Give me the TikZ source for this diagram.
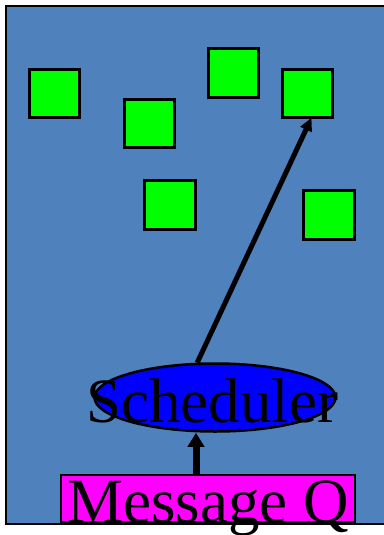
\documentclass[tikz,border=0pt]{standalone}
\usepackage{fontspec}
\setmainfont{Liberation Serif}
\usetikzlibrary{shapes.geometric,arrows.meta,calc}
\definecolor{panelblue}{HTML}{4F81BD}
\definecolor{boxgreen}{HTML}{00FF00}
\definecolor{schedblue}{HTML}{0000FF}
\definecolor{queuemagenta}{HTML}{FF00FF}
\begin{document}
\begin{tikzpicture}[x=1pt,y=-1pt,
  task/.style={draw=black,line width=2.6pt,fill=boxgreen,minimum width=50.5pt,minimum height=48.5pt,inner sep=0pt,outer sep=0pt},
  bigtext/.style={font=\fontsize{63}{63}\selectfont,inner sep=0pt,text=black},
  feedarr/.style={line width=7pt,-{Triangle[length=14pt,width=16pt]}},
  taskarr/.style={line width=5pt,-{Triangle[length=13pt,width=12pt]}}]
\useasboundingbox (0,0) rectangle (383,535);
\fill[white] (0,0) rectangle (383,535);
% panel
\draw[line width=2.5pt,fill=panelblue] (6,6) rectangle (392,524);
% tasks
\node[task] (t1) at (54.5,93.5) {};
\node[task] (t2) at (149.5,123.5) {};
\node[task] (t3) at (233.5,73) {};
\node[task] (t4) at (307.5,93.5) {};
\node[task] (t5) at (170,205) {};
\node[task] (t6) at (329,215) {};
% scheduler and queue
\node[ellipse,draw=black,line width=2.5pt,fill=schedblue,minimum width=241pt,minimum height=68pt,inner sep=0pt] (sched) at (215,397.5) {};
\node[rectangle,draw=black,line width=2.5pt,fill=queuemagenta,minimum width=294pt,minimum height=47pt,inner sep=0pt] (mq) at (208,498.5) {};
\coordinate (ax) at (196,0);
% connectors
\draw[feedarr] (mq.north -| ax) -- (sched.south -| ax);
\draw[taskarr] (sched.117) -- ([xshift=4pt]t4.south);
% labels
\node[bigtext,anchor=base] (schedlabel) at (212,422) {Scheduler};
\node[bigtext,anchor=base] (mqlabel) at (208,522) {Message Q};
\end{tikzpicture}
\end{document}
